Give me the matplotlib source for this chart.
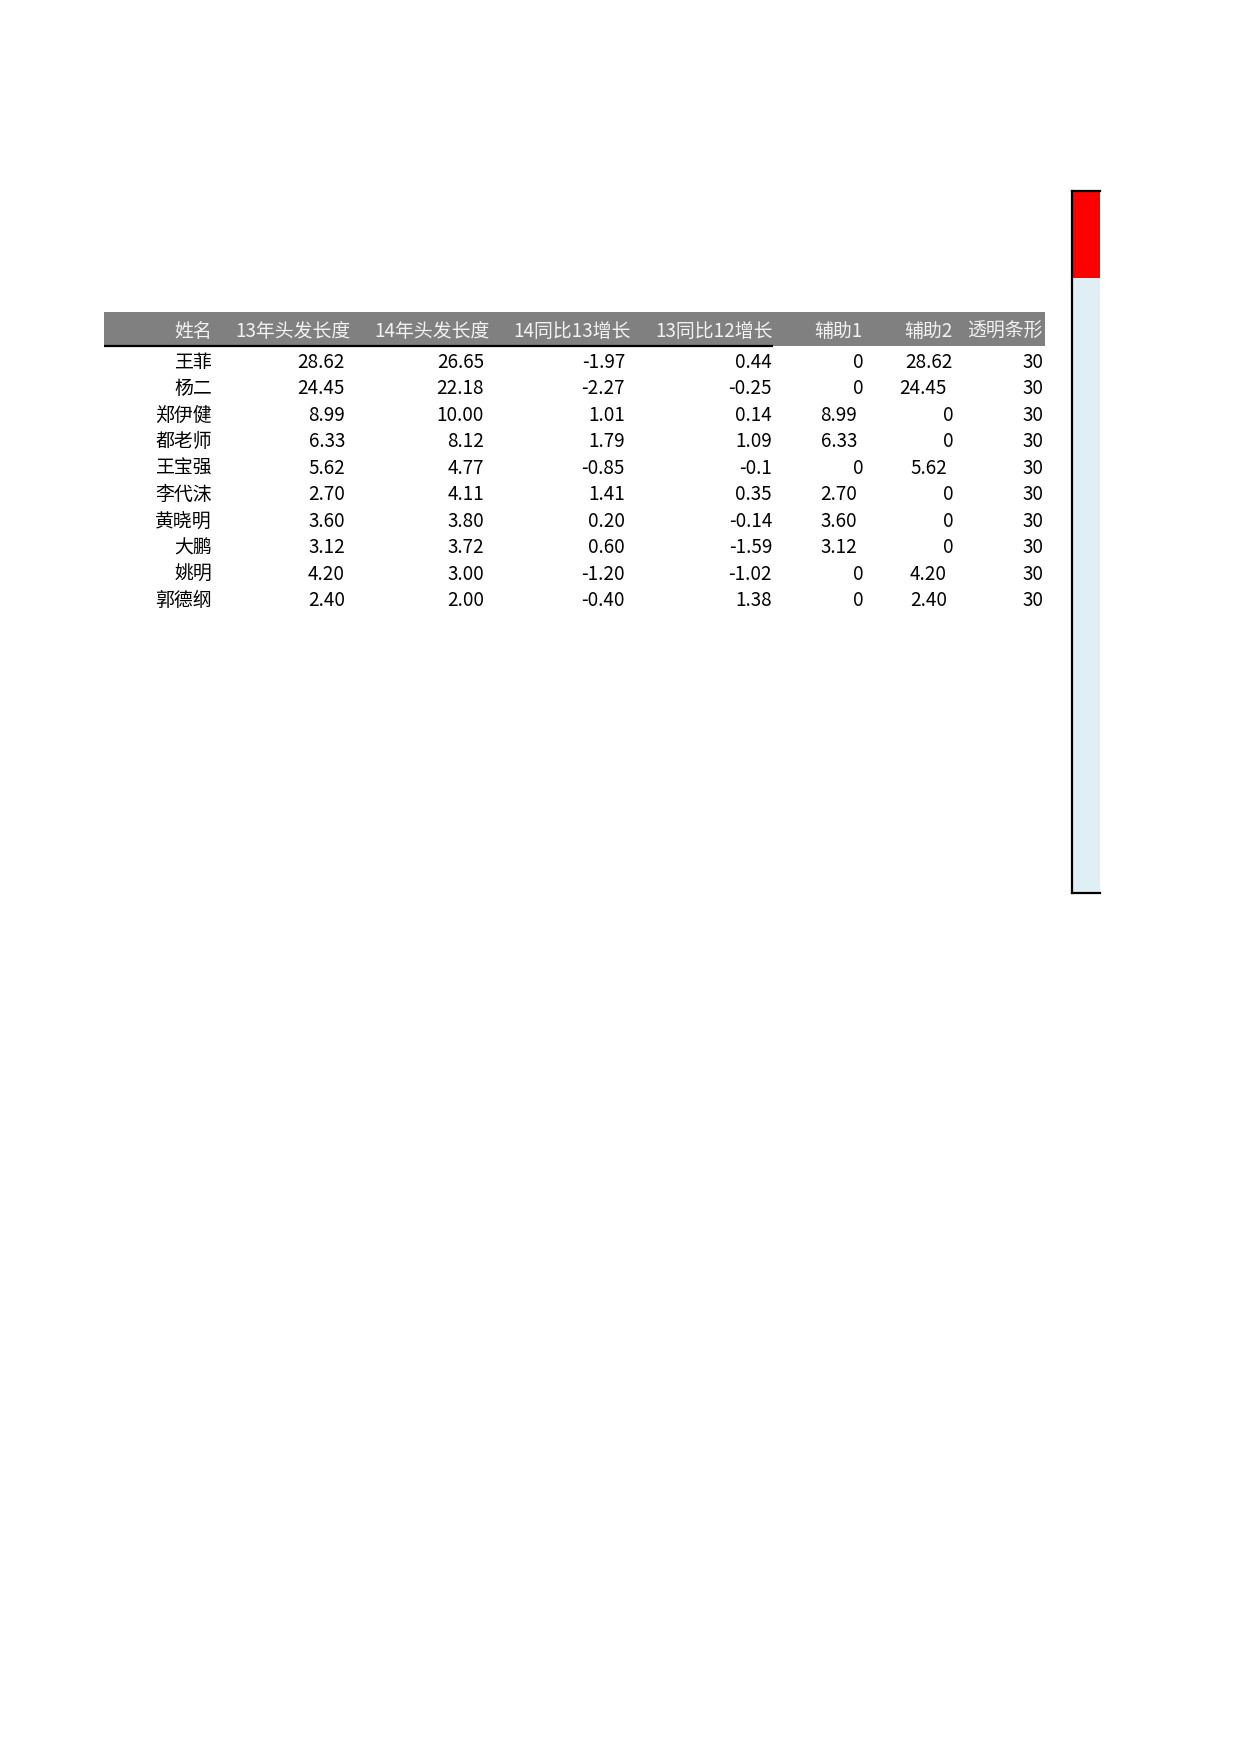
import matplotlib
matplotlib.use("Agg")
import matplotlib.pyplot as plt

plt.rcParams['font.family'] = ['Noto Sans CJK SC', 'DejaVu Sans']

# ---- data ----
headers = ["姓名", "13年头发长度", "14年头发长度", "14同比13增长", "13同比12增长", "辅助1", "辅助2", "透明条形"]
names = ["王菲", "杨二", "郑伊健", "都老师", "王宝强", "李代沫", "黄晓明", "大鹏", "姚明", "郭德纲"]
len13 = [28.62, 24.45, 8.99, 6.33, 5.62, 2.70, 3.60, 3.12, 4.20, 2.40]
len14 = [26.65, 22.18, 10.00, 8.12, 4.77, 4.11, 3.80, 3.72, 3.00, 2.00]
growth14 = [-1.97, -2.27, 1.01, 1.79, -0.85, 1.41, 0.20, 0.60, -1.20, -0.40]
growth13 = [0.44, -0.25, 0.14, 1.09, -0.1, 0.35, -0.14, -1.59, -1.02, 1.38]
aux1 = [0, 0, 8.99, 6.33, 0, 2.70, 3.60, 3.12, 0, 0]
aux2 = [28.62, 24.45, 0, 0, 5.62, 0, 0, 0, 4.20, 2.40]
transparent = [30, 30, 30, 30, 30, 30, 30, 30, 30, 30]
bar_red = 3.72

W, H = 1240, 1754
fig = plt.figure(figsize=(W / 100, H / 100), dpi=100)
ax = fig.add_axes([0, 0, 1, 1])
ax.set_xlim(0, W)
ax.set_ylim(H, 0)
ax.axis("off")

def f2(v):
    return f"{v:.2f}"

def fg(v):
    return f"{v:g}"

def faux(v):
    return "0" if v == 0 else f"{v:.2f}"

# layout (pixels)
header_top, header_bot = 312, 346
header_left, header_right = 104, 1045
header_rx = [212, 351, 490, 631, 773, 863, 953, 1043]
data_rx = [212, 345, 484, 625, 772, 863, 953, 1043]
row0, row_step = 362, 26.55
fs = 13.6

ax.add_patch(plt.Rectangle((header_left, header_top), header_right - header_left,
                           header_bot - header_top, color="#808080", lw=0))
ax.plot([header_left, 773], [header_bot, header_bot], color="black", lw=1.6,
        solid_capstyle="butt")
for h, x in zip(headers, header_rx):
    ax.text(x, (header_top + header_bot) / 2 + 2.5, h, ha="right", va="center",
            fontsize=fs, color="#f2f2f2")

cols = [
    (names, str),
    (len13, f2),
    (len14, f2),
    (growth14, f2),
    (growth13, fg),
    (aux1, faux),
    (aux2, faux),
    (transparent, fg),
]
for ci, (vals, fmt) in enumerate(cols):
    for ri, v in enumerate(vals):
        x = data_rx[ci]
        if ci in (5, 6) and v != 0 and not (ci == 6 and ri == 0):
            x -= 6
        ax.text(x, row0 + ri * row_step, fmt(v), ha="right", va="center",
                fontsize=fs, color="black")

# ---- bar chart on the right ----
bx0, bx1, by0, by1 = 1072, 1100, 191, 893
bax = fig.add_axes([bx0 / W, 1 - by1 / H, (bx1 - bx0) / W, (by1 - by0) / H])
bax.bar([0], [transparent[0]], width=1.0, color="#e0eff5", lw=0)
bax.bar([0], [bar_red], width=1.0, color="#ff0000", lw=0)
bax.set_xlim(-0.5, 0.5)
bax.set_ylim(transparent[0], 0)
bax.set_xticks([])
bax.set_yticks([])
for s in ("left", "top", "bottom"):
    bax.spines[s].set_linewidth(1.6)
    bax.spines[s].set_color("black")
bax.spines["right"].set_visible(False)

fig.savefig("out.png", dpi=100, facecolor="white")
